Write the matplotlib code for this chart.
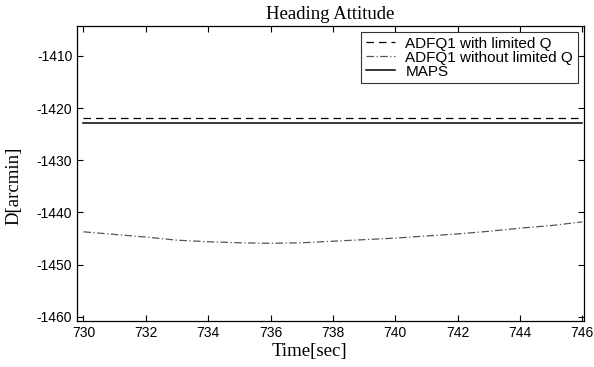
import matplotlib
matplotlib.use("Agg")
import matplotlib.pyplot as plt

plt.rcParams["axes.unicode_minus"] = False

# time samples [sec] and attitude estimates [arcmin]
t = [730, 731, 732, 733, 734, 735, 736, 737, 738, 739, 740, 741, 742, 743, 744, 745, 746]
adfq_limited = [-1421.9] * len(t)
adfq_unlimited = [-1443.7, -1444.2, -1444.7, -1445.3, -1445.6, -1445.8, -1445.9, -1445.8,
                  -1445.5, -1445.2, -1444.9, -1444.5, -1444.1, -1443.6, -1443.0, -1442.5, -1441.8]
maps = [-1422.9] * len(t)

xticks = list(range(730, 747, 2))
yticks = list(range(-1460, -1405, 10))

sans = "Liberation Sans"
serif = "Liberation Serif"

fig = plt.figure(figsize=(5.94, 3.67), dpi=100)
ax = fig.add_axes([0.130, 0.125, 0.853, 0.804])

ax.plot(t, adfq_limited, color="black", lw=0.9, ls=(0, (6, 4)), label="ADFQ1 with limited Q")
ax.plot(t, adfq_unlimited, color="#555555", lw=0.9, ls=(0, (6, 2, 1, 2)), label="ADFQ1 without limited Q")
ax.plot(t, maps, color="black", lw=1.1, ls="-", label="MAPS")

ax.set_xlim(729.8, 746.05)
ax.set_ylim(-1460.8, -1404.3)
ax.set_xticks(xticks)
ax.set_yticks(yticks)
ax.tick_params(direction="in", top=True, right=True, length=4, width=0.8, labelsize=10)
for lab in ax.get_xticklabels() + ax.get_yticklabels():
    lab.set_fontfamily(sans)
for sp in ax.spines.values():
    sp.set_linewidth(0.9)

ax.set_title("Heading Attitude", fontfamily=serif, fontsize=13.5, pad=5)
ax.set_xlabel("Time[sec]", fontfamily=serif, fontsize=13.5)
ax.set_ylabel("D[arcmin]", fontfamily=serif, fontsize=13.5)
ax.xaxis.set_label_coords(0.458, -0.075)
ax.yaxis.set_label_coords(-0.108, 0.458)

leg = ax.legend(loc="upper right", prop={"family": sans, "size": 11}, frameon=True,
                fancybox=False, edgecolor="black", handlelength=1.9, handletextpad=0.7,
                borderpad=0.3, labelspacing=0.0, borderaxespad=0.4)
leg.get_frame().set_linewidth(0.8)

fig.savefig("out.png", dpi=100)
